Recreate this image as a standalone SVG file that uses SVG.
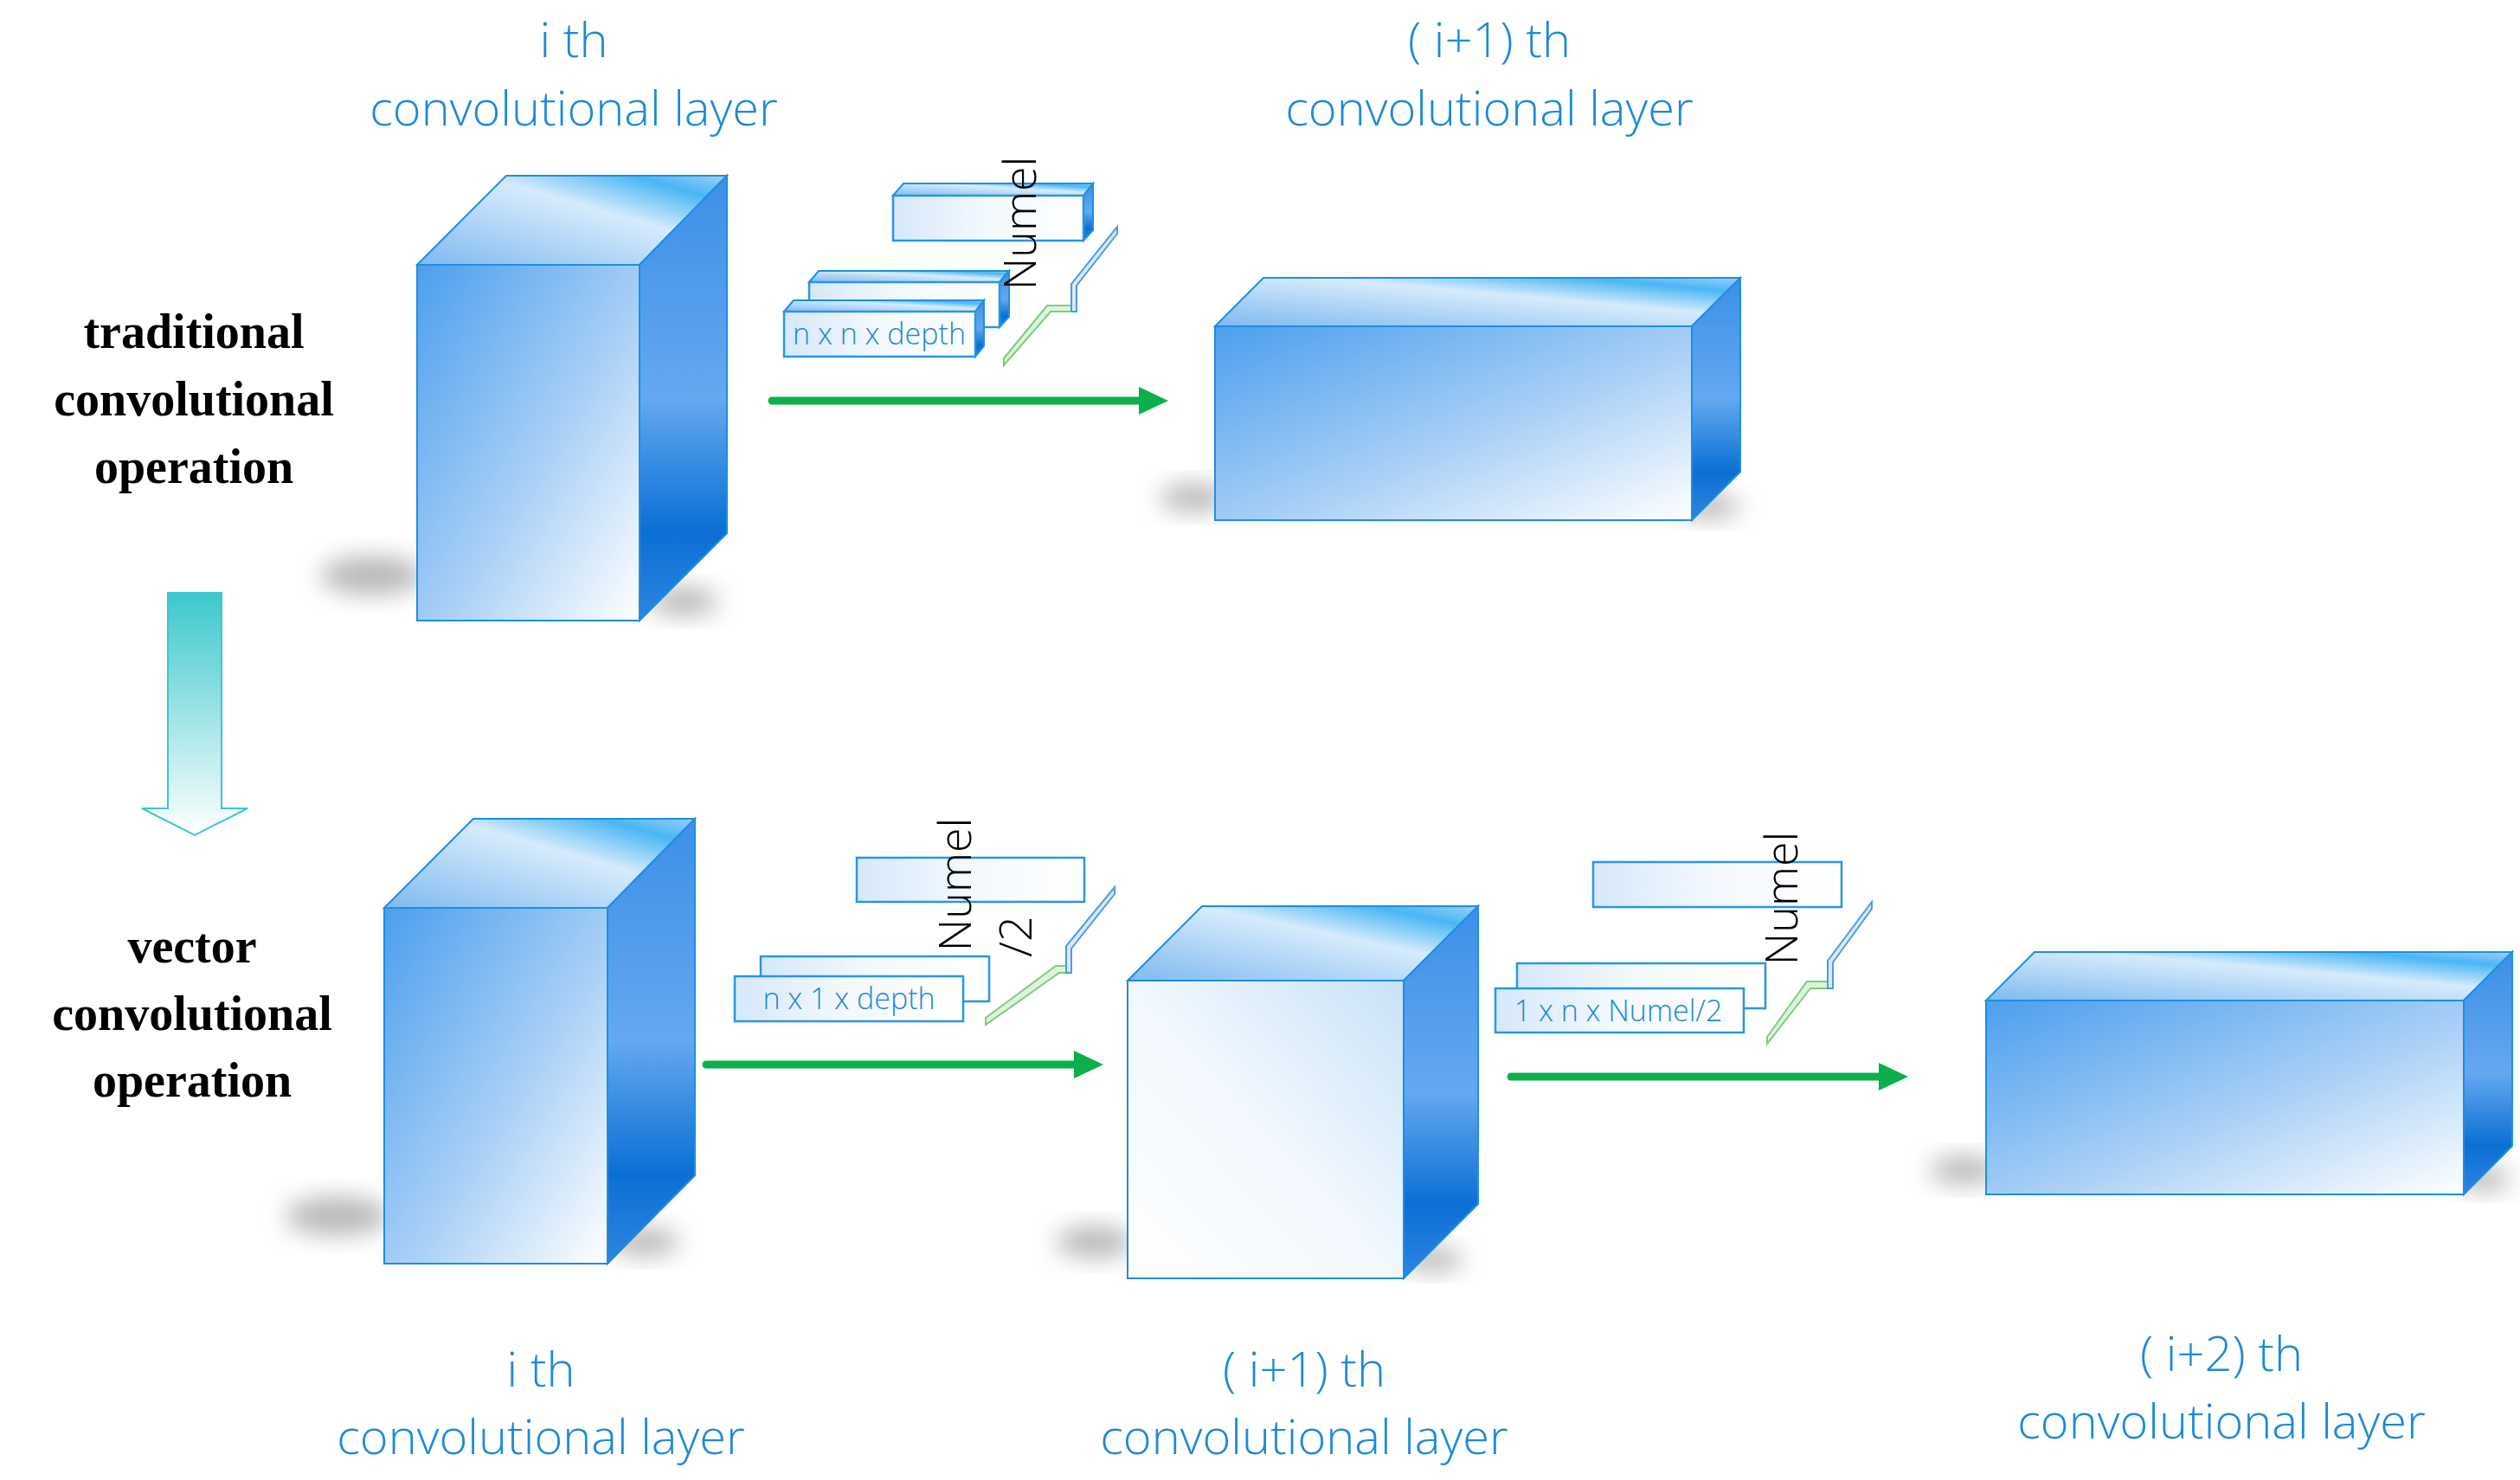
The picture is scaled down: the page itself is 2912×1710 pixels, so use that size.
<svg xmlns="http://www.w3.org/2000/svg" width="2912" height="1710" viewBox="0 0 2912 1710">
<style>
.t{font-family:"Open Sans","Liberation Sans",sans-serif;font-weight:300;fill:#1c8ad6;text-anchor:middle}
.big{font-size:56px}
.lb{font-family:"Liberation Serif",serif;font-weight:bold;font-size:56px;fill:#000;text-anchor:middle}
.bx{font-family:"Open Sans","Liberation Sans",sans-serif;font-weight:300;font-size:34px;fill:#1c8ad6;text-anchor:middle}
.nm{font-family:"Open Sans","Liberation Sans",sans-serif;font-weight:300;font-size:52px;fill:#000;text-anchor:middle}
.fr{fill:url(#gFront);stroke:#1f8ee0;stroke-width:2}
.frw{fill:url(#gFrontW);stroke:#1f8ee0;stroke-width:2}
.tp{fill:url(#gTop);stroke:#1f8ee0;stroke-width:2}
.sd{fill:url(#gSide);stroke:#1f8ee0;stroke-width:2}
.sm{fill:url(#gBox);stroke:#2a96e2;stroke-width:2.5}
.arr{stroke:#0bb04a;stroke-width:9;stroke-linecap:round;fill:none}
.sh{fill:#999;filter:url(#blur);opacity:0.7}
.brg{fill:#dff2df;stroke:#7ccf7c;stroke-width:2}
.brb{fill:#dce8f7;stroke:#4a9ee0;stroke-width:2}
</style>
<defs>
<linearGradient id="gFront" x1="0" y1="0" x2="1" y2="1"><stop offset="0" stop-color="#4c9fee"/><stop offset="0.55" stop-color="#a8cff6"/><stop offset="1" stop-color="#ffffff"/></linearGradient>
<linearGradient id="gFrontW" x1="1" y1="0" x2="0" y2="1"><stop offset="0" stop-color="#c8e2f8"/><stop offset="0.5" stop-color="#f2f8fe"/><stop offset="1" stop-color="#ffffff"/></linearGradient>
<linearGradient id="gTop" x1="0" y1="1" x2="1" y2="0"><stop offset="0" stop-color="#7fb9f0"/><stop offset="0.6" stop-color="#d6ebfc"/><stop offset="0.85" stop-color="#4ab6f5"/><stop offset="1" stop-color="#9ccff7"/></linearGradient>
<linearGradient id="gSide" x1="0" y1="0" x2="0" y2="1"><stop offset="0" stop-color="#3d8fe8"/><stop offset="0.5" stop-color="#64a8f0"/><stop offset="0.8" stop-color="#0a6fd4"/><stop offset="1" stop-color="#2e86e0"/></linearGradient>
<linearGradient id="gBox" x1="0" y1="0" x2="1" y2="0"><stop offset="0" stop-color="#d6e8fb"/><stop offset="0.5" stop-color="#f4f9fe"/><stop offset="1" stop-color="#ffffff"/></linearGradient>
<linearGradient id="gDown" x1="0" y1="0" x2="0" y2="1"><stop offset="0" stop-color="#3cc8cc"/><stop offset="1" stop-color="#ffffff"/></linearGradient>
<filter id="blur" x="-50%" y="-50%" width="200%" height="200%"><feGaussianBlur stdDeviation="14"/></filter>
</defs>

<g id="labels">
<text class="t big" x="663" y="66">i th</text>
<text class="t big" x="663" y="145">convolutional layer</text>
<text class="t big" x="1721" y="66">( i+1) th</text>
<text class="t big" x="1721" y="145">convolutional layer</text>
<text class="lb" x="224" y="402">traditional</text>
<text class="lb" x="224" y="480">convolutional</text>
<text class="lb" x="224" y="558">operation</text>
<text class="lb" x="222" y="1112">vector</text>
<text class="lb" x="222" y="1190">convolutional</text>
<text class="lb" x="222" y="1267">operation</text>
<text class="t big" x="625" y="1602">i th</text>
<text class="t big" x="625" y="1680">convolutional layer</text>
<text class="t big" x="1507" y="1602">( i+1) th</text>
<text class="t big" x="1507" y="1680">convolutional layer</text>
<text class="t big" x="2567" y="1584">( i+2) th</text>
<text class="t big" x="2567" y="1662">convolutional layer</text>
</g>

<g id="cube-top-i">
<ellipse class="sh" cx="430" cy="665" rx="60" ry="22"/>
<ellipse class="sh" cx="790" cy="695" rx="40" ry="16"/>
<polygon class="tp" points="482,306 585,203 840,203 739,306"/>
<polygon class="sd" points="739,306 840,203 840,616 739,717"/>
<rect class="fr" x="482" y="306" width="257" height="411"/>
</g>

<g id="cube-top-i1">
<ellipse class="sh" cx="1380" cy="575" rx="40" ry="16"/>
<ellipse class="sh" cx="1975" cy="585" rx="35" ry="14"/>
<polygon class="tp" points="1404,377 1460,321 2011,321 1955,377"/>
<polygon class="sd" points="1955,377 2011,321 2011,545 1955,601"/>
<rect class="fr" x="1404" y="377" width="551" height="224"/>
</g>

<g id="filters-top">
<polygon class="tp" points="1032,226 1044,212 1263,212 1252,226"/>
<polygon class="sd" points="1252,226 1263,212 1263,266 1252,278"/>
<rect class="sm" x="1032" y="226" width="220" height="52"/>
<polygon class="tp" points="935,326 946,313 1166,313 1155,326"/>
<polygon class="sd" points="1155,326 1166,313 1166,366 1155,378"/>
<rect class="sm" x="935" y="326" width="220" height="52"/>
<polygon class="tp" points="906,360 917,347 1137,347 1127,360"/>
<polygon class="sd" points="1127,360 1137,347 1137,400 1127,412"/>
<rect class="sm" x="906" y="360" width="221" height="52"/>
<text class="bx" x="1016" y="398">n x n x depth</text>
<text class="nm" transform="translate(1197,258) rotate(-90)">Numel</text>
<polygon class="brg" points="1160,414 1210,353 1238,353 1238,360 1214,360 1160,422"/>
<polygon class="brb" points="1238,353 1238,328 1291,262 1291,270 1244,330 1244,360 1238,360"/>
</g>

<g id="down-arrow">
<polygon points="194,685 256,685 256,934 286,934 225,965 164,934 194,934" fill="url(#gDown)" stroke="#3cc8cc" stroke-width="2"/>
</g>

<g id="cube-bot-i">
<ellipse class="sh" cx="390" cy="1405" rx="60" ry="22"/>
<ellipse class="sh" cx="745" cy="1435" rx="40" ry="16"/>
<polygon class="tp" points="444,1049 547,946 803,946 702,1049"/>
<polygon class="sd" points="702,1049 803,946 803,1358 702,1460"/>
<rect class="fr" x="444" y="1049" width="258" height="411"/>
</g>

<g id="cube-bot-i1">
<ellipse class="sh" cx="1265" cy="1435" rx="45" ry="18"/>
<ellipse class="sh" cx="1655" cy="1455" rx="35" ry="14"/>
<polygon class="tp" points="1303,1133 1389,1047 1708,1047 1622,1133"/>
<polygon class="sd" points="1622,1133 1708,1047 1708,1391 1622,1477"/>
<rect class="frw" x="1303" y="1133" width="319" height="344"/>
</g>

<g id="cube-bot-i2">
<ellipse class="sh" cx="2270" cy="1352" rx="40" ry="16"/>
<ellipse class="sh" cx="2870" cy="1362" rx="30" ry="14"/>
<polygon class="tp" points="2295,1156 2351,1100 2903,1100 2847,1156"/>
<polygon class="sd" points="2847,1156 2903,1100 2903,1324 2847,1380"/>
<rect class="fr" x="2295" y="1156" width="552" height="224"/>
</g>

<g id="filters-bot1">
<rect class="sm" x="990" y="991" width="263" height="51"/>
<rect class="sm" x="879" y="1105" width="264" height="52"/>
<rect class="sm" x="849" y="1128" width="264" height="52"/>
<text class="bx" x="981" y="1166">n x 1 x depth</text>
<text class="nm" transform="translate(1122,1022) rotate(-90)">Numel</text>
<text class="nm" transform="translate(1192,1082) rotate(-90)">/2</text>
<polygon class="brg" points="1139,1176 1220,1116 1232,1116 1232,1124 1224,1124 1139,1184"/>
<polygon class="brb" points="1232,1116 1232,1093 1288,1025 1288,1033 1238,1096 1238,1124 1232,1124"/>
</g>

<g id="filters-bot2">
<rect class="sm" x="1841" y="996" width="287" height="52"/>
<rect class="sm" x="1753" y="1113" width="287" height="52"/>
<rect class="sm" x="1728" y="1142" width="287" height="51"/>
<text class="bx" x="1870" y="1180">1 x n x Numel/2</text>
<text class="nm" transform="translate(2077,1038) rotate(-90)">Numel</text>
<polygon class="brg" points="2042,1198 2088,1134 2112,1134 2112,1142 2092,1142 2042,1206"/>
<polygon class="brb" points="2112,1134 2112,1110 2163,1042 2163,1050 2118,1112 2118,1142 2112,1142"/>
</g>

<g id="connectors">
<line class="arr" x1="892" y1="463" x2="1318" y2="463"/>
<polygon points="1316,447 1350,463 1316,479" fill="#0bb04a"/>
<line class="arr" x1="816" y1="1230" x2="1243" y2="1230"/>
<polygon points="1241,1214 1275,1230 1241,1246" fill="#0bb04a"/>
<line class="arr" x1="1746" y1="1244" x2="2173" y2="1244"/>
<polygon points="2171,1228 2205,1244 2171,1260" fill="#0bb04a"/>
</g>
</svg>
